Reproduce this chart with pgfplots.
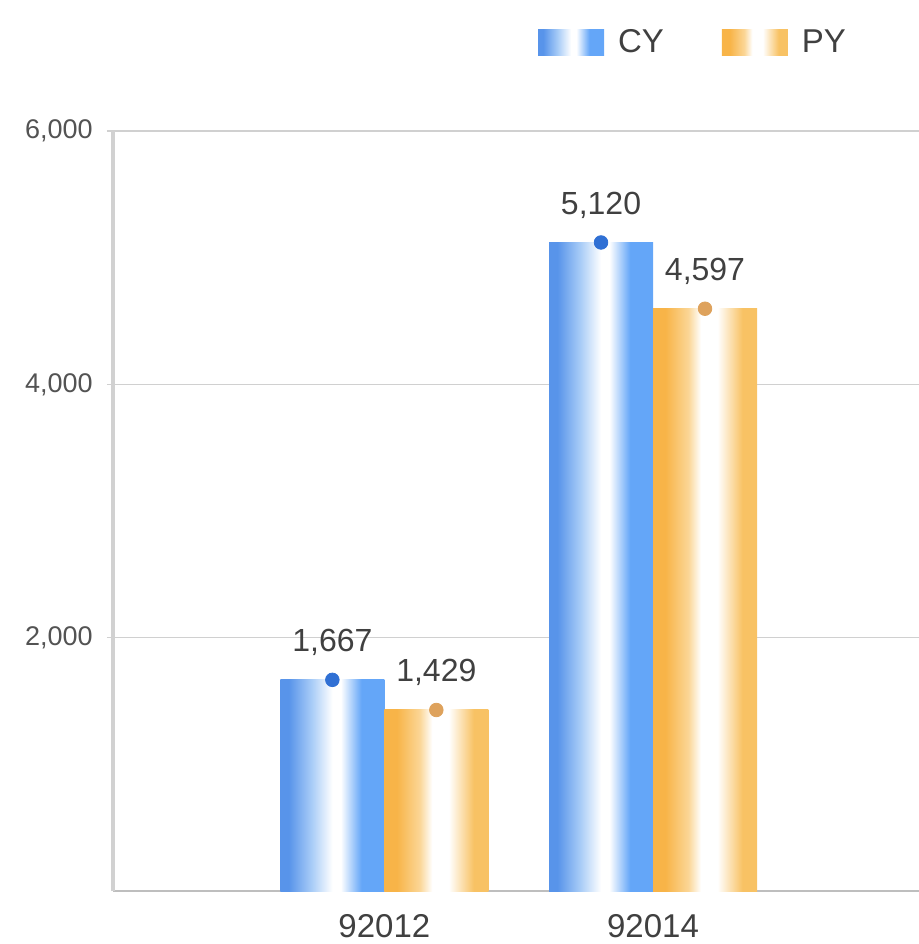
\documentclass[border=0pt]{standalone}
\usepackage{pgfplots}
\pgfplotsset{compat=1.18}
\usepackage{fontspec}
\setmainfont{Liberation Sans}
\definecolor{cyL}{RGB}{88,148,234}
\definecolor{cyM}{RGB}{168,204,247}
\definecolor{cyR}{RGB}{100,166,248}
\definecolor{pyL}{RGB}{248,180,72}
\definecolor{pyM}{RGB}{251,214,150}
\definecolor{pyR}{RGB}{248,194,100}
\definecolor{cyDot}{RGB}{48,112,212}
\definecolor{pyDot}{RGB}{222,162,92}
\definecolor{gridc}{RGB}{208,208,208}
\definecolor{axc}{RGB}{190,190,190}
\definecolor{txt}{RGB}{64,64,64}
\pgfdeclarehorizontalshading{cyshade}{100bp}{color(0bp)=(cyL); color(25bp)=(cyL); color(29bp)=(cyL); color(40bp)=(cyM); color(50bp)=(white); color(54bp)=(white); color(64bp)=(cyR); color(75bp)=(cyR); color(100bp)=(cyR)}
\pgfdeclarehorizontalshading{pyshade}{100bp}{color(0bp)=(pyL); color(25bp)=(pyL); color(31bp)=(pyL); color(42bp)=(pyM); color(48bp)=(white); color(56bp)=(white); color(68bp)=(pyR); color(75bp)=(pyR); color(100bp)=(pyR)}
\begin{document}
\begin{tikzpicture}
\useasboundingbox (-56.5pt,-26.5pt) rectangle (403pt,445.5pt);
\begin{axis}[
  at={(0pt,0pt)}, anchor=south west,
  scale only axis, width=403pt, height=380pt,
  xmin=-1.01, xmax=1.99, ymin=0, ymax=6000,
  axis x line*=bottom, axis y line*=left,
  x axis line style={draw=axc, line width=1pt},
  y axis line style={draw=axc!70, line width=2pt},
  xtick={0,1}, xticklabels={92012,92014},
  xtick style={draw=none},
  ytick={2000,4000,6000},
  ytick style={draw=gridc, line width=0.8pt},
  tick align=outside, major tick length=3pt,
  ymajorgrids, grid style={draw=gridc, line width=0.8pt},
  /pgf/number format/.cd, 1000 sep={,}, assume math mode=true, /pgfplots/.cd,
  yticklabel style={font=\fontsize{13.5}{16}\selectfont, text=txt!90, anchor=east, inner sep=0pt, xshift=-7pt},
  xticklabel style={font=\fontsize{16.5}{19}\selectfont, text=txt, anchor=base, inner sep=0pt, yshift=-20pt},
  bar width=52pt,
  legend columns=2,
  legend style={at={(0.7208,1.116)}, anchor=center, draw=none, fill=none, font=\fontsize{16.5}{19}\selectfont, text=txt, /tikz/every even column/.append style={column sep=27pt}},
]
\addplot[ybar, bar shift=0pt, draw=none, shade, shading=cyshade,
  legend image code/.code={\shade[shading=cyshade] (0pt,-6.5pt) rectangle (33pt,6.5pt); \path (38pt,0pt);}]
  coordinates {(-0.1935,1667)};
\addplot[ybar, bar shift=0pt, draw=none, shade, shading=pyshade,
  legend image code/.code={\shade[shading=pyshade] (0pt,-6.5pt) rectangle (33pt,6.5pt); \path (38pt,0pt);}]
  coordinates {(0.1935,1429)};
\addplot[ybar, bar shift=0pt, draw=none, shade, shading=cyshade, forget plot]
  coordinates {(0.8065,5120)};
\addplot[ybar, bar shift=0pt, draw=none, shade, shading=pyshade, forget plot]
  coordinates {(1.1935,4597)};
\addplot[only marks, mark=*, mark size=3.4pt, forget plot,
  mark options={draw=cyDot, fill=cyDot},
  nodes near coords={\pgfmathprintnumber[1000 sep={,}]{\pgfplotspointmeta}},
  every node near coord/.append style={font=\fontsize{16}{19}\selectfont, text=txt, anchor=base, inner sep=0pt, yshift=14pt}]
  coordinates {(-0.1935,1667) (0.8065,5120)};
\addplot[only marks, mark=*, mark size=3.4pt, forget plot,
  mark options={draw=pyDot, fill=pyDot},
  nodes near coords={\pgfmathprintnumber[1000 sep={,}]{\pgfplotspointmeta}},
  every node near coord/.append style={font=\fontsize{16}{19}\selectfont, text=txt, anchor=base, inner sep=0pt, yshift=14pt}]
  coordinates {(0.1935,1429) (1.1935,4597)};
\legend{CY,PY}
\end{axis}
\end{tikzpicture}
\end{document}
